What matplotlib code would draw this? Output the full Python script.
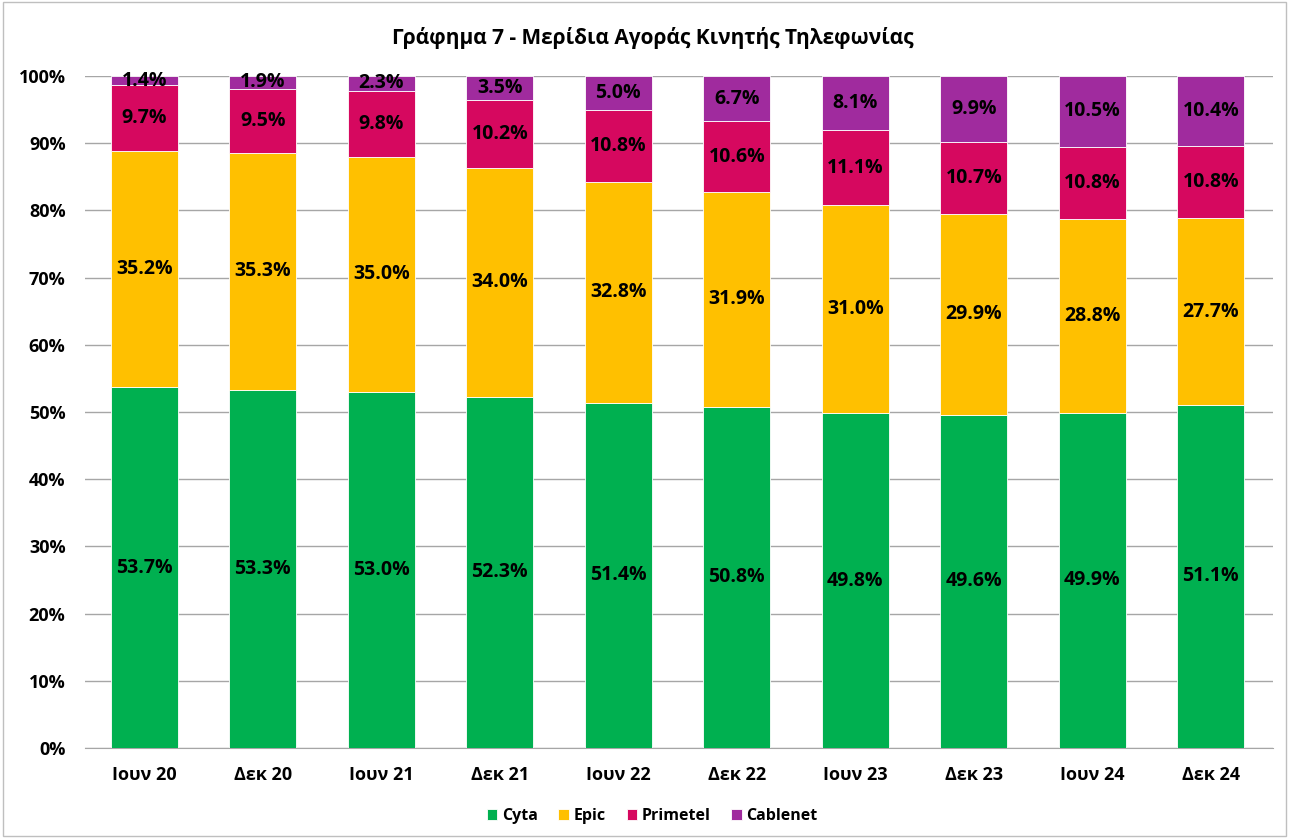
import numpy as np
import matplotlib.pyplot as plt
from matplotlib.ticker import PercentFormatter

periods = ['Ιουν 20', 'Δεκ 20', 'Ιουν 21', 'Δεκ 21', 'Ιουν 22',
           'Δεκ 22', 'Ιουν 23', 'Δεκ 23', 'Ιουν 24', 'Δεκ 24']
cyta = [53.7, 53.3, 53.0, 52.3, 51.4, 50.8, 49.8, 49.6, 49.9, 51.1]
epic = [35.2, 35.3, 35.0, 34.0, 32.8, 31.9, 31.0, 29.9, 28.8, 27.7]
primetel = [9.7, 9.5, 9.8, 10.2, 10.8, 10.6, 11.1, 10.7, 10.8, 10.8]
cablenet = [1.4, 1.9, 2.3, 3.5, 5.0, 6.7, 8.1, 9.9, 10.5, 10.4]

series = [('Cyta', cyta, '#00B050'), ('Epic', epic, '#FFC000'),
          ('Primetel', primetel, '#D6085F'), ('Cablenet', cablenet, '#A02B9E')]

plt.rcParams['font.family'] = ['Open Sans', 'DejaVu Sans']

fig = plt.figure(figsize=(12.89, 8.38), dpi=100)
ax = fig.add_axes([0.0659, 0.1074, 0.9213, 0.8019])

x = np.arange(len(periods))
bottom = np.zeros(len(periods))
for name, vals, col in series:
    vals = np.array(vals) / 100
    # clip so the top stack never goes over 100%
    h = np.minimum(vals, 1 - bottom)
    ax.bar(x, h, width=0.565, bottom=bottom, color=col, label=name,
           edgecolor='white', linewidth=0.6, zorder=3)
    for xi, b, hi, v in zip(x, bottom, h, vals):
        ax.text(xi, b + hi / 2, f'{v * 100:.1f}%', ha='center', va='center',
                fontsize=14, fontweight='bold', color='black', zorder=4)
    bottom += h

ax.set_xlim(-0.5, len(periods) - 0.5 + 0.02)
ax.set_ylim(0, 1)
ax.set_yticks(np.arange(0, 1.01, 0.1))
ax.yaxis.set_major_formatter(PercentFormatter(1.0, decimals=0))
ax.set_xticks(x)
ax.set_xticklabels(periods)
for lbl in ax.get_xticklabels() + ax.get_yticklabels():
    lbl.set_fontweight('bold')
    lbl.set_fontsize(13)
ax.tick_params(axis='both', length=0)
ax.tick_params(axis='x', pad=13)
ax.tick_params(axis='y', pad=14)
ax.grid(axis='y', color='#A6A6A6', linewidth=1, zorder=0)
for s in ['top', 'right', 'left']:
    ax.spines[s].set_visible(False)
ax.spines['bottom'].set_color('#A6A6A6')

fig.text(0.5066, 0.955, 'Γράφημα 7 - Μερίδια Αγοράς Κινητής Τηλεφωνίας',
         ha='center', va='center', fontsize=15, fontweight='bold')
leg = fig.legend(loc='center', bbox_to_anchor=(0.506, 0.026), ncol=4, frameon=False,
                 handlelength=0.65, handleheight=0.65, handletextpad=0.3,
                 columnspacing=1.3, prop={'weight': 'bold', 'size': 11.5})

fig.patches.append(plt.Rectangle((0.002, 0.002), 0.996, 0.996, transform=fig.transFigure,
                                 fill=False, edgecolor='#BFBFBF', linewidth=1))

fig.savefig('out.png', dpi=100)
